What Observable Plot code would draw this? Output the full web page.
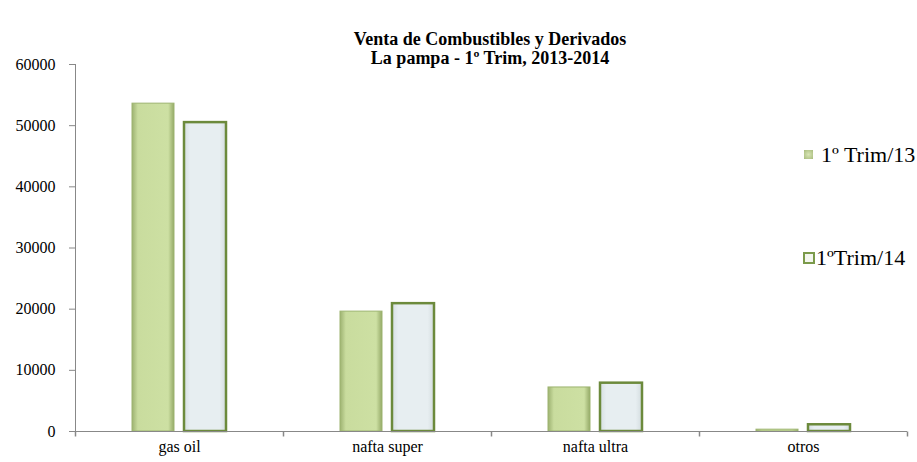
<!DOCTYPE html>
<html>
<head>
<meta charset="utf-8">
<script src="https://cdn.jsdelivr.net/npm/d3@7"></script>
<script src="https://cdn.jsdelivr.net/npm/@observablehq/plot@0.6"></script>
<style>
  html, body { margin: 0; padding: 0; background: #fff; }
  #wrap { position: relative; width: 917px; height: 462px; font-family: "Liberation Serif", serif; }
  #chart svg, #chart svg text { font-family: "Liberation Serif", serif !important; }
  #title { position: absolute; left: 290px; width: 400px; top: 30px; text-align: center; font-weight: bold; font-size: 18px; line-height: 19px; color: #000; }
  .leg { position: absolute; font-size: 22px; color: #000; white-space: nowrap; line-height: 22px; }
  .sw { position: absolute; box-sizing: border-box; }
</style>
</head>
<body>
<svg width="0" height="0" style="position:absolute">
  <defs>
    <linearGradient id="g13" x1="0" x2="1" y1="0" y2="0">
      <stop offset="0" stop-color="#9db271"/>
      <stop offset="0.14" stop-color="#c9dc9e"/>
      <stop offset="0.86" stop-color="#cde0a3"/>
      <stop offset="1" stop-color="#95aa68"/>
    </linearGradient>
    <linearGradient id="g14" x1="0" x2="1" y1="0" y2="0">
      <stop offset="0" stop-color="#d6dfe2"/>
      <stop offset="0.15" stop-color="#e7eef1"/>
      <stop offset="0.85" stop-color="#e7eef1"/>
      <stop offset="1" stop-color="#d3dcdf"/>
    </linearGradient>
  </defs>
</svg>
<div id="wrap">
  <div id="chart"></div>
  <div id="title">Venta de Combustibles y Derivados<br>La pampa - 1º Trim, 2013-2014</div>
  <div class="sw" style="left:804px;top:150px;width:9px;height:9px;background:radial-gradient(#d9e6b6,#a7bb7c);"></div>
  <div class="leg" style="left:821px;top:144px;">1º Trim/13</div>
  <div class="sw" style="left:803px;top:252px;width:12px;height:12px;border:2px solid #7b9a4a;background:#f3f6ee;"></div>
  <div class="leg" style="left:816px;top:247px;">1ºTrim/14</div>
</div>
<script>
const categories = ["gas oil", "nafta super", "nafta ultra", "otros"];
const series = ["1º Trim/13", "1ºTrim/14"];
const trim13 = [53600, 19600, 7200, 300];
const trim14 = [50500, 20900, 7900, 1100];
const yTicks = [0, 10000, 20000, 30000, 40000, 50000, 60000];

const rows13 = categories.map((c, i) => ({cat: c, serie: series[0], value: trim13[i]}));
const rows14 = categories.map((c, i) => ({cat: c, serie: series[1], value: trim14[i]}));

const tickSymbol = {draw(ctx) { ctx.moveTo(0, 0); ctx.lineTo(0, 5); }};

const chart = Plot.plot({
  width: 917,
  height: 462,
  marginLeft: 75,
  marginRight: 10,
  marginTop: 64,
  marginBottom: 31,
  style: {fontFamily: "Liberation Serif", fontSize: "16px", color: "#000", background: "transparent"},
  fx: {domain: categories, padding: 0, label: null},
  x: {domain: series, axis: null, paddingInner: 0.2, paddingOuter: 1.1},
  y: {domain: [0, 60000], label: null},
  marks: [
    Plot.barY(rows13, {fx: "cat", x: "serie", y: "value", fill: "url(#g13)", stroke: "#9db470", strokeWidth: 1}),
    Plot.barY(rows14, {fx: "cat", x: "serie", y: "value", fill: "url(#g14)", stroke: "#6c8a3c", strokeWidth: 2.5}),
    Plot.ruleY([0], {stroke: "#888"}),
    Plot.frame({anchor: "left", facetAnchor: "left", stroke: "#888"}),
    Plot.dot(categories, {fx: d => d, frameAnchor: "bottom-left", symbol: tickSymbol, stroke: "#888", fill: "none"}),
    Plot.dot(categories.slice(-1), {fx: d => d, frameAnchor: "bottom-right", symbol: tickSymbol, stroke: "#888", fill: "none"}),
    Plot.axisY({ticks: yTicks, tickFormat: d => String(d), tickSize: 6, tickPadding: 14, stroke: "#888", fill: "#000", label: null, fontSize: 16}),
    Plot.axisFx({anchor: "bottom", tickSize: 0, tickPadding: 9, label: null, fill: "#000", fontSize: 16})
  ]
});
document.getElementById("chart").appendChild(chart);
</script>
</body>
</html>
